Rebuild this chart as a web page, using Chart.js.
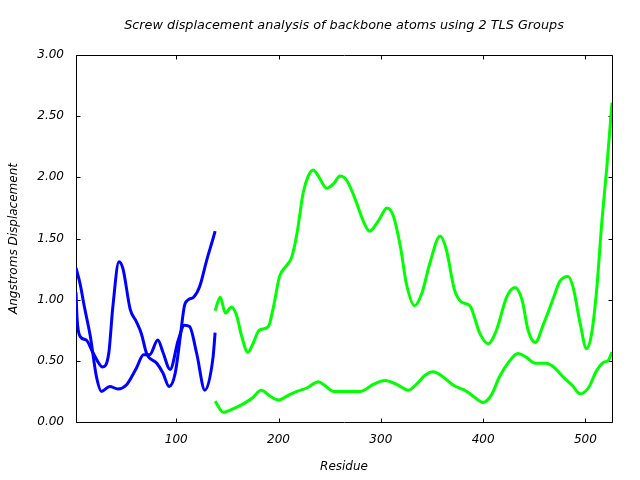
<!DOCTYPE html>
<html>
<head>
<meta charset="utf-8">
<script src="https://cdn.jsdelivr.net/npm/chart.js@4/dist/chart.umd.min.js"></script>
<style>
  html, body { margin: 0; padding: 0; background: #fff; }
  canvas { display: block; }
</style>
</head>
<body>
<canvas id="c" width="640" height="480"></canvas>
<script>
// ---- Data ----
const titleText = "Screw displacement analysis of backbone atoms using 2 TLS Groups";
const xAxisLabel = "Residue";
const yAxisLabel = "Angstroms Displacement";

const xTicks = [100, 200, 300, 400, 500];
const yTicks = [0, 0.5, 1.0, 1.5, 2.0, 2.5, 3.0];

// TLS group 1 (blue), two curves
const group1aResidue = [2, 6, 10, 16, 22, 27, 35, 43, 51, 61, 68, 74, 82, 87, 94, 102, 108, 113, 120, 128, 136, 138];
const group1aValue   = [1.26, 1.13, 0.95, 0.70, 0.37, 0.25, 0.29, 0.27, 0.30, 0.44, 0.55, 0.55, 0.67, 0.57, 0.43, 0.67, 0.79, 0.78, 0.56, 0.26, 0.53, 0.73];

const group1bResidue = [2, 3, 6, 12, 19, 28, 34, 38, 44, 48, 55, 61, 66, 71, 81, 87, 93, 99, 104, 108, 112, 117, 123, 130, 136, 138];
const group1bValue   = [1.06, 0.85, 0.70, 0.67, 0.56, 0.45, 0.56, 0.94, 1.31, 1.25, 0.92, 0.82, 0.72, 0.56, 0.48, 0.40, 0.29, 0.40, 0.70, 0.95, 1.00, 1.02, 1.11, 1.33, 1.50, 1.56];

// TLS group 2 (green), two curves
const group2aResidue = [138, 143, 148, 154, 159, 164, 170, 175, 181, 190, 195, 201, 208, 213, 218, 224, 229, 234, 239, 247, 254, 260, 267, 275, 283, 289, 298, 306, 312, 319, 325, 333, 340, 348, 358, 364, 372, 379, 387, 397, 405, 413, 423, 431, 438, 444, 451, 459, 469, 475, 483, 488, 495, 501, 506, 511, 516, 521, 526];
const group2aValue   = [0.91, 1.02, 0.89, 0.94, 0.87, 0.70, 0.57, 0.64, 0.75, 0.78, 0.94, 1.19, 1.28, 1.35, 1.54, 1.87, 2.01, 2.06, 2.01, 1.91, 1.95, 2.01, 1.97, 1.82, 1.64, 1.56, 1.65, 1.75, 1.69, 1.44, 1.13, 0.95, 1.05, 1.30, 1.52, 1.41, 1.08, 0.98, 0.95, 0.72, 0.64, 0.75, 1.02, 1.10, 1.00, 0.75, 0.65, 0.80, 1.02, 1.15, 1.19, 1.10, 0.80, 0.60, 0.72, 1.08, 1.63, 2.09, 2.61];

const group2bResidue = [138, 146, 156, 166, 175, 183, 192, 200, 210, 218, 228, 239, 245, 254, 267, 280, 293, 304, 315, 327, 335, 343, 351, 359, 371, 384, 392, 400, 408, 416, 425, 434, 442, 451, 461, 469, 478, 487, 495, 503, 511, 518, 522, 526];
const group2bValue   = [0.17, 0.08, 0.11, 0.15, 0.20, 0.26, 0.21, 0.18, 0.22, 0.25, 0.28, 0.33, 0.30, 0.25, 0.25, 0.25, 0.31, 0.34, 0.31, 0.26, 0.31, 0.38, 0.41, 0.38, 0.30, 0.25, 0.20, 0.16, 0.22, 0.37, 0.49, 0.56, 0.53, 0.48, 0.48, 0.45, 0.37, 0.30, 0.23, 0.28, 0.42, 0.49, 0.50, 0.57];

const xMin = 2, xMax = 526, yMin = 0, yMax = 3;

function pts(xs, ys) { return xs.map((x, i) => ({ x: x, y: ys[i] })); }

const BLUE = '#0000ff';
const GREEN = '#00ff00';
const FONT_FAMILY = "'DejaVu Sans', sans-serif";

function lineSet(data, color) {
  return {
    data: data,
    borderColor: color,
    backgroundColor: color,
    borderWidth: 3,
    pointRadius: 0,
    fill: false,
    cubicInterpolationMode: 'monotone',
    borderJoinStyle: 'round',
    borderCapStyle: 'butt'
  };
}

// Border box and inward (mirrored) tick marks, gnuplot style
const frame = {
  id: 'frame',
  beforeDatasetsDraw(chart) {
    const { ctx, chartArea: a, scales: { x, y } } = chart;
    const L = Math.round(a.left) + 0.5, R = Math.round(a.right) + 0.5;
    const T = Math.round(a.top) + 0.5, B = Math.round(a.bottom) + 0.5;
    const len = 4;
    ctx.save();
    ctx.strokeStyle = '#000';
    ctx.lineWidth = 1;
    ctx.beginPath();
    ctx.rect(L, T, R - L, B - T);
    xTicks.forEach(v => {
      const px = Math.round(x.getPixelForValue(v)) + 0.5;
      ctx.moveTo(px, B); ctx.lineTo(px, B - len);
      ctx.moveTo(px, T); ctx.lineTo(px, T + len);
    });
    yTicks.forEach(v => {
      const py = Math.round(y.getPixelForValue(v)) + 0.5;
      ctx.moveTo(L, py); ctx.lineTo(L + len, py);
      ctx.moveTo(R, py); ctx.lineTo(R - len, py);
    });
    ctx.stroke();
    ctx.restore();
  },
  // Title centred over the plot area
  afterDraw(chart) {
    const { ctx, chartArea: a } = chart;
    ctx.save();
    ctx.fillStyle = '#000';
    ctx.font = "italic 12.8px " + FONT_FAMILY;
    ctx.textAlign = 'center';
    ctx.textBaseline = 'middle';
    ctx.fillText(titleText, (a.left + a.right) / 2, 26);
    ctx.restore();
  }
};

Chart.defaults.font.family = FONT_FAMILY;
Chart.defaults.font.style = 'italic';
Chart.defaults.font.size = 12;
Chart.defaults.color = '#000';

new Chart(document.getElementById('c'), {
  type: 'line',
  data: {
    datasets: [
      lineSet(pts(group1aResidue, group1aValue), BLUE),
      lineSet(pts(group1bResidue, group1bValue), BLUE),
      lineSet(pts(group2aResidue, group2aValue), GREEN),
      lineSet(pts(group2bResidue, group2bValue), GREEN)
    ]
  },
  options: {
    responsive: false,
    animation: false,
    devicePixelRatio: 1,
    layout: { padding: { left: 0, right: 28, top: 55, bottom: 0 } },
    plugins: {
      legend: { display: false },
      tooltip: { enabled: false },
      title: { display: false }
    },
    scales: {
      x: {
        type: 'linear',
        min: xMin,
        max: xMax,
        grid: { display: false, drawTicks: false },
        border: { display: false },
        afterBuildTicks: s => { s.ticks = xTicks.map(v => ({ value: v })); },
        afterFit: s => { s.height = 58; },
        ticks: { padding: 11, font: { size: 12, style: 'italic' }, callback: v => String(v) },
        title: { display: true, text: xAxisLabel, font: { size: 12, style: 'italic' }, padding: { top: 0, bottom: 6 } }
      },
      y: {
        type: 'linear',
        min: yMin,
        max: yMax,
        grid: { display: false, drawTicks: false },
        border: { display: false },
        afterBuildTicks: s => { s.ticks = yTicks.map(v => ({ value: v })); },
        afterFit: s => { s.width = 76; },
        ticks: { padding: 12, font: { size: 12, style: 'italic' }, callback: v => Number(v).toFixed(2) },
        title: { display: true, text: yAxisLabel, font: { size: 12, style: 'italic' }, padding: { top: 7, bottom: 0 } }
      }
    }
  },
  plugins: [frame]
});
</script>
</body>
</html>
